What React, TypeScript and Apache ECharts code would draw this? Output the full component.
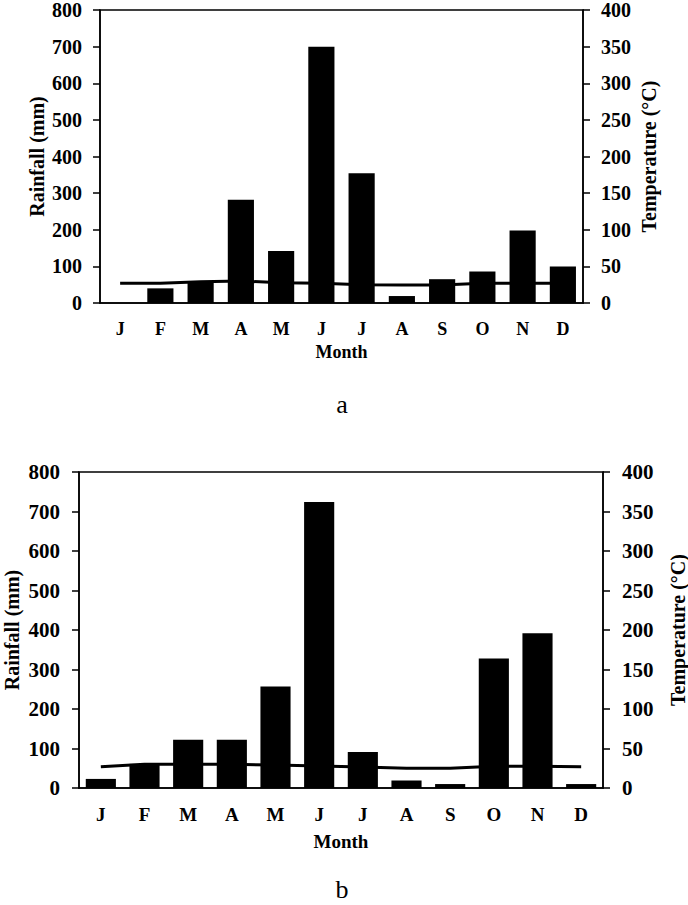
import React, { useEffect, useRef } from "react";
import * as echarts from "echarts";

const months = ["J", "F", "M", "A", "M", "J", "J", "A", "S", "O", "N", "D"];
const rainfallA = [0, 40, 55, 282, 142, 700, 354, 19, 65, 86, 198, 100];
const temperatureA = [27, 27, 29, 30, 27.5, 27, 25, 24.5, 24.5, 27, 27, 27];
const rainfallB = [23, 61, 122, 122, 257, 724, 91, 19, 10, 328, 392, 10];
const temperatureB = [27, 30, 30, 30, 29, 28, 26.5, 25, 25, 27.5, 27.5, 27];
const rainTicks = { min: 0, max: 800, interval: 100 };
const tempTicks = { min: 0, max: 400, interval: 50 };
const captions = ["a", "b"];

const FONT = "'Liberation Serif', 'Times New Roman', serif";

export default function App() {
  const ref = useRef<HTMLDivElement>(null);
  useEffect(() => {
    if (!ref.current) return;
    const chart = echarts.init(ref.current, undefined, { renderer: "svg" });
    const axisLine = { show: true, lineStyle: { color: "#000", width: 1.5 } };
    const mkX = (gridIndex: number, fs: number, nfs: number, margin: number, nameGap: number) => ({
      type: "category",
      gridIndex,
      data: months,
      axisLine,
      axisTick: { show: false },
      axisLabel: { color: "#000", fontFamily: FONT, fontWeight: "bold", fontSize: fs, margin },
      name: "Month",
      nameLocation: "middle",
      nameGap,
      nameMoveOverlap: false,
      nameTextStyle: { color: "#000", fontFamily: FONT, fontWeight: "bold", fontSize: nfs },
    });
    const mkY = (
      gridIndex: number,
      position: string,
      ticks: { min: number; max: number; interval: number },
      name: string,
      fs: number,
      nfs: number,
      margin: number,
      nameGap: number
    ) => ({
      type: "value",
      gridIndex,
      position,
      min: ticks.min,
      max: ticks.max,
      interval: ticks.interval,
      axisLine,
      axisTick: { show: true, length: 7, lineStyle: { color: "#000", width: 1.5 } },
      splitLine: { show: false },
      axisLabel: { color: "#000", fontFamily: FONT, fontWeight: "bold", fontSize: fs, margin },
      name,
      nameLocation: "middle",
      nameGap,
      nameMoveOverlap: false,
      nameTextStyle: { color: "#000", fontFamily: FONT, fontWeight: "bold", fontSize: nfs },
    });
    chart.setOption({
      animation: false,
      backgroundColor: "#fff",
      grid: [
        { left: 100, top: 10, width: 483, height: 293, show: true, borderColor: "#000", borderWidth: 1.5, backgroundColor: "transparent", containLabel: false, outerBoundsMode: "none" },
        { left: 79, top: 472, width: 524, height: 316, show: true, borderColor: "#000", borderWidth: 1.5, backgroundColor: "transparent", containLabel: false, outerBoundsMode: "none" },
      ],
      xAxis: [mkX(0, 18, 18, 17, 40), mkX(1, 19, 19, 17, 44)],
      yAxis: [
        mkY(0, "left", rainTicks, "Rainfall (mm)", 20, 20, 18, 53),
        mkY(0, "right", tempTicks, "Temperature (°C)", 20, 20, 18, 56),
        mkY(1, "left", rainTicks, "Rainfall (mm)", 21, 20, 19, 57),
        mkY(1, "right", tempTicks, "Temperature (°C)", 21, 20, 19, 65),
      ],
      series: [
        { type: "bar", xAxisIndex: 0, yAxisIndex: 0, data: rainfallA, barWidth: "65%", itemStyle: { color: "#000" } },
        { type: "line", xAxisIndex: 0, yAxisIndex: 1, data: temperatureA, symbol: "none", lineStyle: { color: "#000", width: 3 }, z: 3 },
        { type: "bar", xAxisIndex: 1, yAxisIndex: 2, data: rainfallB, barWidth: "69%", itemStyle: { color: "#000" } },
        { type: "line", xAxisIndex: 1, yAxisIndex: 3, data: temperatureB, symbol: "none", lineStyle: { color: "#000", width: 3 }, z: 3 },
      ],
      graphic: [
        { type: "text", x: 342, y: 404, style: { text: captions[0], fontFamily: FONT, fontSize: 26, fill: "#000", textAlign: "center", textVerticalAlign: "middle" } },
        { type: "text", x: 342, y: 889, style: { text: captions[1], fontFamily: FONT, fontSize: 26, fill: "#000", textAlign: "center", textVerticalAlign: "middle" } },
      ],
    });
    return () => chart.dispose();
  }, []);
  return <div ref={ref} style={{ position: "absolute", left: 0, top: 0, width: 688, height: 905 }} />;
}
